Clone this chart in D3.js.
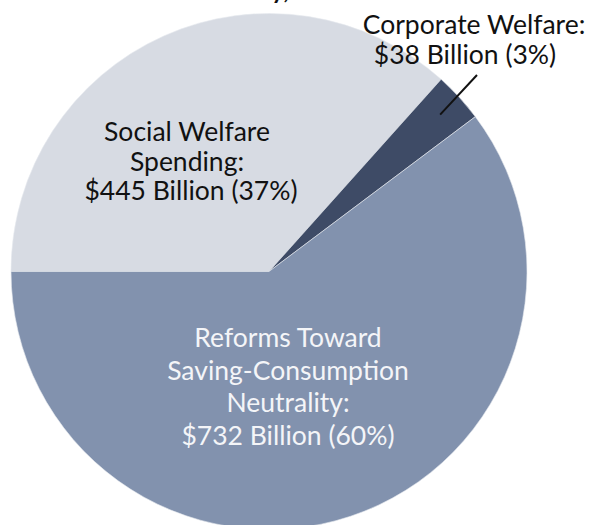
<!DOCTYPE html>
<html>
<head>
<meta charset="utf-8">
<script src="https://cdn.jsdelivr.net/npm/d3@7"></script>
<style>
  html, body { margin: 0; padding: 0; background: #fff; }
  svg { display: block; }
  text { font-family: Lato, "Open Sans", sans-serif; }
</style>
</head>
<body>
<svg id="chart" width="595" height="525"></svg>
<script>
// Tax expenditure categories, billions of dollars
const categories = ["Social Welfare Spending", "Corporate Welfare", "Reforms Toward Saving-Consumption Neutrality"];
const amounts = [445, 38, 732];
const shares = [37, 3, 60];
const sliceColors = ["#d7dbe3", "#3e4b66", "#8292ae"];

// Label lines per slice
const labelLines = [
  ["Social Welfare", "Spending:", "$445 Billion (37%)"],
  ["Corporate Welfare:", "$38 Billion (3%)"],
  ["Reforms Toward", "Saving-Consumption", "Neutrality:", "$732 Billion (60%)"]
];
const titleText = "Total Tax Subsidy, 2013";

const svg = d3.select("#chart");
const cx = 269, cy = 271.5, radius = 258;

// Title sits above the visible area; only its descenders reach in
svg.append("text")
  .attr("x", 226).attr("y", -1)
  .attr("text-anchor", "middle")
  .attr("font-size", 24).attr("font-weight", 700)
  .attr("fill", "#111")
  .text(titleText);

const pie = d3.pie().sort(null).value(d => d)
  .startAngle(-Math.PI / 2).endAngle(1.5 * Math.PI);
const arc = d3.arc().innerRadius(0).outerRadius(radius);

const g = svg.append("g").attr("transform", `translate(${cx},${cy})`);
const arcs = pie(amounts);

g.selectAll("path.slice")
  .data(arcs)
  .join("path")
  .attr("class", "slice")
  .attr("d", arc)
  .attr("fill", (d, i) => sliceColors[i])
  .attr("stroke", "#e6e9ef")
  .attr("stroke-width", 0.6);

// Label placement: per-line centres, first baseline, line spacing, colour
const labelSpecs = [
  { xs: [187, 187, 191], y: 141, dy: 29.5, color: "#111" },
  { xs: [474, 465], y: 34, dy: 29.5, color: "#111" },
  { xs: [288, 288, 288, 288], y: 347, dy: 32.5, color: "#f4f5f8" }
];

labelSpecs.forEach((s, i) => {
  const t = svg.append("text")
    .attr("text-anchor", "middle")
    .attr("font-size", 26.5)
    .attr("fill", s.color);
  labelLines[i].forEach((line, j) => {
    t.append("tspan").attr("x", s.xs[j]).attr("y", s.y + j * s.dy).text(line);
  });
});

// Leader line from the corporate label into its thin slice
const corp = arcs[1];
const inner = d3.arc().innerRadius(radius * 0.9).outerRadius(radius * 0.9).centroid(corp);
svg.append("line")
  .attr("x1", 477).attr("y1", 75)
  .attr("x2", cx + inner[0]).attr("y2", cy + inner[1])
  .attr("stroke", "#111").attr("stroke-width", 2);
</script>
</body>
</html>
